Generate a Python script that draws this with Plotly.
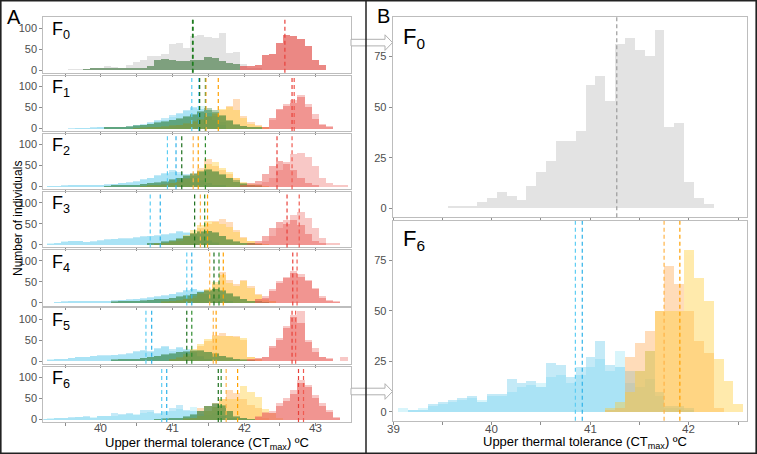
import plotly.graph_objects as go

W, H = 757, 454
BIN = 0.1  # histogram bin width (°C)

# ---------------- data: (first bin centre, counts per 0.1 °C bin) ----------------
F0_grey = (39.6, [1,1,1,3,5,8,6,4,11,18,23,33,33,38,61,65,53,81,84,78,75,88,40,42,13,5,2])
F0_green = (39.8, [1,2,3,4,3,3,3,5,5,8,24,26,24,22,22,24,24,30,28,20,16,14])
F0_red = (42.0, [8,8,12,36,38,64,82,80,74,56,24,12])

F1_cyan_a = (39.7, [1,1,1,2,2,3,4,5,8,10,14,18,22,28,35,42,50,55,45,30,15])
F1_cyan_b = (39.6, [1,1,1,2,2,3,3,5,6,9,12,16,20,26,32,38,46,52,48,38,22,10])
F1_orange = (40.5, [1,1,2,3,4,6,8,12,16,22,28,36,45,55,70,30,15,8,3])
F1_yellow = (40.5, [1,2,3,4,6,8,10,14,18,24,30,38,48,52,45,25,12,6,2])
F1_green_a = (40.1, [2,3,4,6,8,10,12,14,17,20,24,28,32,40,45,40,30,18,10,6,3,2])
F1_green_b = (40.1, [2,2,4,5,7,9,12,15,18,22,26,30,35,42,50,45,33,20,12,7,4,2])
F1_red_a = (42.3, [3,25,48,55,62,75,52,24,10,4])
F1_red_b = (42.3, [2,20,45,58,68,80,60,35,12,6])

F2_cyan_a = (39.3, [1,1,1,2,2,3,4,4,5,6,8,10,12,15,20,25,30,35,30,26,20,14,8,4,2])
F2_cyan_b = (39.3, [1,1,2,2,3,3,4,5,6,7,9,12,14,18,22,28,34,40,36,30,22,15,10,5,2])
F2_orange = (40.6, [1,2,4,6,10,15,22,30,45,66,50,40,30,20,10,5,2,1])
F2_yellow = (40.6, [1,2,3,5,8,12,18,26,40,55,60,45,35,22,12,6,3,1])
F2_green_a = (40.1, [1,2,3,4,5,6,8,10,12,16,20,25,30,36,42,38,30,22,15,8,4,2])
F2_green_b = (40.1, [1,2,2,3,5,7,9,11,14,18,22,27,33,38,40,35,28,20,12,6,3,1])
F2_red_a = (42.0, [4,8,14,30,50,62,55,40,22,10,4])
F2_red_b = (42.1, [3,6,12,22,40,60,78,80,72,50,22,8,4,2])

F3_cyan_a = (39.3, [2,4,8,10,8,6,7,10,12,13,14,14,15,18,20,22,24,26,30,30,26,20,12,6])
F3_cyan_b = (39.3, [1,3,6,10,9,7,8,11,13,14,15,16,18,20,22,24,26,28,32,28,24,18,10,5])
F3_orange = (40.8, [1,3,6,10,18,28,40,50,56,62,55,35,18,8,3,1])
F3_yellow = (40.8, [2,4,8,14,24,36,48,56,54,50,42,30,16,8,3,1])
F3_green_a = (40.7, [2,4,6,10,14,20,26,32,34,30,22,14,8,4,2,1])
F3_green_b = (40.7, [3,5,8,12,16,22,28,30,32,28,20,12,6,3,2,1])
F3_red_a = (42.1, [4,10,22,40,55,50,60,48,25,10,4])
F3_red_b = (42.2, [4,10,22,40,58,70,78,65,40,15,5,2])

F4_cyan_a = (39.4, [1,1,2,2,3,3,4,4,5,6,7,9,10,12,14,16,20,24,28,32,30,22,14,8,4])
F4_cyan_b = (39.4, [1,2,2,3,3,4,4,5,6,7,8,9,11,13,15,18,22,26,30,34,28,20,12,6,3])
F4_orange = (40.9, [1,3,5,8,12,20,30,45,74,55,45,54,40,20,8,3])
F4_yellow = (40.9, [2,4,6,10,16,24,34,50,66,48,40,52,36,18,6,2])
F4_green_a = (40.2, [2,3,4,5,6,7,8,10,12,15,18,22,26,30,32,28,22,14,8,4,2,1])
F4_green_b = (40.2, [1,2,3,4,5,6,8,9,11,14,17,21,25,29,33,30,24,16,10,5,2,1])
F4_red_a = (42.2, [8,12,28,48,58,70,62,52,32,12,5,1])
F4_red_b = (42.2, [10,15,32,52,62,76,68,55,36,16,6,2])

F5_cyan_a = (39.3, [2,3,5,7,9,10,11,12,12,13,14,16,20,24,22,28,32,24,30,26,18,10,4])
F5_cyan_b = (39.3, [1,2,4,6,8,10,12,13,14,14,16,18,24,26,24,30,36,28,34,28,20,12,5])
F5_orange = (41.0, [3,6,12,24,36,48,62,66,60,58,50,8,2])
F5_yellow = (41.0, [4,8,16,28,40,52,58,60,58,56,55,10,3])
F5_green_a = (40.2, [2,3,4,5,6,8,12,14,16,20,22,24,26,22,18,12,8,4,2,1])
F5_green_b = (40.2, [1,2,3,5,6,9,12,15,18,21,24,26,24,20,16,11,7,3,1,1])
F5_red_a = (42.1, [3,6,8,35,50,78,104,90,45,22,8,4])
F5_red_b = (42.1, [2,5,8,30,54,82,110,118,50,30,10,6,0,8])

F6_cyan_a = (39.1, [2,1,2,3,4,5,6,7,6,8,8,10,12,13,14,17,18,14,18,22,26,20,30,14,12,16,8,2,2,1])
F6_cyan_b = (39.1, [0,1,1,4,5,6,7,8,5,9,9,16,14,15,12,24,23,17,22,27,35,23,22,20,20,30,10,3,3,2])
F6_orange = (41.2, [1,2,27,34,40,50,72,63,50,35,29,2])
F6_yellow = (41.2, [2,5,10,20,30,50,50,50,80,66,55,26,15,4])
F6_green_a = (40.8, [1,2,3,5,8,14,20,32,38,36,22,8,3,1])
F6_green_b = (40.8, [1,1,2,4,7,12,22,34,40,34,20,7,2,1])
F6_red_a = (42.2, [6,15,16,32,45,62,88,78,52,32,18,5])
F6_red_b = (42.2, [10,19,20,39,51,70,96,84,59,39,23,7])

# mean CTmax per line (dashed lines)
MEANS_CYAN = [[], [41.27, 41.37], [40.93, 41.05], [40.69, 40.83], [41.20, 41.27], [40.63, 40.71], [40.85, 40.92]]
MEANS_GREEN = [[41.28, 41.29], [41.38, 41.46], [41.13, 41.46], [41.31, 41.45], [41.58, 41.65], [41.20, 41.27], [41.64, 41.68]]
MEANS_ORANGE = [[], [41.47, 41.64], [41.29, 41.36], [41.39, 41.49], [41.52, 41.71], [41.57, 41.61], [41.75, 41.91]]
MEANS_RED = [[42.57], [42.67, 42.70], [42.46, 42.67], [42.60, 42.77], [42.68, 42.74], [42.67, 42.72], [42.76, 42.83]]
MEAN_GREY_F0 = 41.27

GEN_LABELS = ["F<sub>0</sub>", "F<sub>1</sub>", "F<sub>2</sub>", "F<sub>3</sub>",
              "F<sub>4</sub>", "F<sub>5</sub>", "F<sub>6</sub>"]
A_XTICKS = [39.5, 40, 40.5, 41, 41.5, 42, 42.5, 43]
A_XLABELS = [40, 41, 42, 43]
B_XTICKS = [39, 39.5, 40, 40.5, 41, 41.5, 42, 42.5]
B_XLABELS = [39, 40, 41, 42]

# ---------------- styles ----------------
FONT = "Liberation Sans, Arial, sans-serif"
FRAME = "#bdbdbd"
TICKC = "#8c8c8c"
LABC = "#4d4d4d"

STY = {
    "cyan_a": ("#7fe0f2", 0.30), "cyan_b": ("#55c2ea", 0.34),
    "orange": ("#ffa040", 0.36), "yellow": ("#ffcc33", 0.40),
    "green_a": ("#2e7d32", 0.36), "green_b": ("#2e7d32", 0.36),
    "red_a": ("#e8504a", 0.45), "red_b": ("#ec6a64", 0.36),
    "grey": ("#e3e3e3", 1.0), "green0": ("#2d6b2d", 0.55), "red0": ("#e0403a", 0.62),
}
LINE_COL = {"cyan": ["#5ccdf3", "#2fb2e8"], "green": ["#1b6e1b", "#2e8b2e"],
            "orange": ["#ffb347", "#ffa000"], "red": ["#e8403a", "#f05a50"]}

ROW_SERIES = {
    1: [("cyan_a", F1_cyan_a), ("cyan_b", F1_cyan_b), ("orange", F1_orange), ("yellow", F1_yellow),
        ("green_a", F1_green_a), ("green_b", F1_green_b), ("red_a", F1_red_a), ("red_b", F1_red_b)],
    2: [("cyan_a", F2_cyan_a), ("cyan_b", F2_cyan_b), ("orange", F2_orange), ("yellow", F2_yellow),
        ("green_a", F2_green_a), ("green_b", F2_green_b), ("red_a", F2_red_a), ("red_b", F2_red_b)],
    3: [("cyan_a", F3_cyan_a), ("cyan_b", F3_cyan_b), ("orange", F3_orange), ("yellow", F3_yellow),
        ("green_a", F3_green_a), ("green_b", F3_green_b), ("red_a", F3_red_a), ("red_b", F3_red_b)],
    4: [("cyan_a", F4_cyan_a), ("cyan_b", F4_cyan_b), ("orange", F4_orange), ("yellow", F4_yellow),
        ("green_a", F4_green_a), ("green_b", F4_green_b), ("red_a", F4_red_a), ("red_b", F4_red_b)],
    5: [("cyan_a", F5_cyan_a), ("cyan_b", F5_cyan_b), ("orange", F5_orange), ("yellow", F5_yellow),
        ("green_a", F5_green_a), ("green_b", F5_green_b), ("red_a", F5_red_a), ("red_b", F5_red_b)],
    6: [("cyan_a", F6_cyan_a), ("cyan_b", F6_cyan_b), ("orange", F6_orange), ("yellow", F6_yellow),
        ("green_a", F6_green_a), ("green_b", F6_green_b), ("red_a", F6_red_a), ("red_b", F6_red_b)],
}
ROW_SERIES[0] = [("grey", F0_grey), ("green0", F0_green), ("red0", F0_red)]


def px(x):
    return x / W


def py(y):
    return 1 - y / H


def centres(series):
    start, counts = series
    return [round(start + BIN * k, 2) for k in range(len(counts))], counts


fig = go.Figure()
shapes = []
annotations = []
layout_axes = {}


def xref_of(idx):
    return "x" if idx == 1 else f"x{idx}"


def add_hist(idx, key, series):
    col, op = STY[key]
    xs, ys = centres(series)
    fig.add_trace(go.Bar(x=xs, y=ys, width=BIN, opacity=op,
                         marker=dict(color=col, line=dict(width=0)),
                         xaxis=xref_of(idx),
                         yaxis="y" if idx == 1 else f"y{idx}",
                         showlegend=False, hoverinfo="skip"))


def add_vline(idx, xv, col):
    shapes.append(dict(type="line", xref=xref_of(idx),
                       yref=("y" if idx == 1 else f"y{idx}") + " domain",
                       x0=xv, x1=xv, y0=0, y1=1,
                       line=dict(color=col, width=1.2, dash="4px,3px")))


def add_xlabels(idx, values, ypix):
    for v in values:
        annotations.append(dict(x=v, y=py(ypix), xref=xref_of(idx), yref="paper", text=str(v),
                                showarrow=False, xanchor="center", yanchor="middle",
                                font=dict(family=FONT, size=11.5, color=LABC)))


def axis_pair(idx, xdom, ydom, xrange, yrange, xt, yt, yfont):
    xn = "xaxis" if idx == 1 else f"xaxis{idx}"
    yn = "yaxis" if idx == 1 else f"yaxis{idx}"
    layout_axes[xn] = dict(domain=xdom, range=xrange, anchor="y" if idx == 1 else f"y{idx}",
                           tickmode="array", tickvals=xt, showticklabels=False,
                           ticks="outside", ticklen=3, tickcolor=TICKC, showline=True, mirror=True,
                           linecolor=FRAME, linewidth=1, showgrid=False, zeroline=False,
                           automargin=False)
    layout_axes[yn] = dict(domain=ydom, range=yrange, anchor=xref_of(idx),
                           tickmode="array", tickvals=yt, ticks="outside", ticklen=3,
                           tickcolor=TICKC, showline=True, mirror=True, linecolor=FRAME,
                           linewidth=1, showgrid=False, zeroline=False, automargin=False,
                           tickfont=dict(family=FONT, size=yfont, color=LABC))


# ---------------- panel A ----------------
A_XDOM = [px(43.3), px(350.5)]
A_XRANGE = [39.197, 43.486]
A_YRANGE = [-6.5, 126]
for i in range(7):
    idx = i + 1
    top = 17.3 + 58.2 * i
    bot = top + 55.5
    axis_pair(idx, A_XDOM, [py(bot), py(top)], A_XRANGE, A_YRANGE,
              A_XTICKS, [0, 50, 100], 11)
    for key, s in ROW_SERIES[i]:
        add_hist(idx, key, s)
    for cname, means in (("cyan", MEANS_CYAN[i]), ("green", MEANS_GREEN[i]),
                         ("orange", MEANS_ORANGE[i]), ("red", MEANS_RED[i])):
        for j, m in enumerate(means):
            add_vline(idx, m, LINE_COL[cname][j % 2])
    annotations.append(dict(x=px(50), y=py(top + 13), xref="paper", yref="paper",
                            text=GEN_LABELS[i], showarrow=False, xanchor="left", yanchor="middle",
                            font=dict(family=FONT, size=18, color="black")))
add_xlabels(7, A_XLABELS, 427.5)

# ---------------- panel B ----------------
B_XDOM = [px(392.7), px(746.7)]
B_XRANGE = [38.997, 42.588]
B_YRANGE = [-4.45, 94.4]
# B top: F0
axis_pair(8, B_XDOM, [py(217.3), py(17.3)], B_XRANGE, B_YRANGE, B_XTICKS, [0, 25, 50, 75], 11)
add_hist(8, "grey", F0_grey)
add_vline(8, MEAN_GREY_F0, "#9a9a9a")
# B bottom: F6 (cyan and yellow lines)
axis_pair(9, B_XDOM, [py(420.7), py(221)], B_XRANGE, B_YRANGE, B_XTICKS, [0, 25, 50, 75], 11)
for key, s in ROW_SERIES[6][:4]:
    add_hist(9, key, s)
for cname, means in (("cyan", MEANS_CYAN[6]), ("orange", MEANS_ORANGE[6])):
    for j, m in enumerate(means):
        add_vline(9, m, LINE_COL[cname][j % 2])
add_xlabels(9, B_XLABELS, 428.5)
annotations.append(dict(x=px(401), y=py(38), xref="paper", yref="paper", text=GEN_LABELS[0],
                        showarrow=False, xanchor="left", yanchor="middle",
                        font=dict(family=FONT, size=22, color="black")))
annotations.append(dict(x=px(401), y=py(240), xref="paper", yref="paper", text=GEN_LABELS[6],
                        showarrow=False, xanchor="left", yanchor="middle",
                        font=dict(family=FONT, size=22, color="black")))

# ---------------- titles & panel letters ----------------
XTITLE = "Upper thermal tolerance (CT<sub>max</sub>) ºC"
annotations += [
    dict(x=px(14), y=py(17), text="A", font=dict(family=FONT, size=20, color="black")),
    dict(x=px(383), y=py(16), text="B", font=dict(family=FONT, size=20, color="black")),
    dict(x=px(18), y=py(219), text="Number of individuals", textangle=-90,
         font=dict(family=FONT, size=12, color="black")),
    dict(x=px(207), y=py(443), text=XTITLE, font=dict(family=FONT, size=13, color="black")),
    dict(x=px(585), y=py(442), text=XTITLE, font=dict(family=FONT, size=13, color="black")),
]
for a in annotations[-5:]:
    a.update(xref="paper", yref="paper", showarrow=False, xanchor="center", yanchor="middle")


# ---------------- arrows, divider, outer frame ----------------
def arrow_path(cy):
    pts = [(351, cy - 3.3), (385, cy - 3.3), (385, cy - 7.8), (392.5, cy),
           (385, cy + 7.8), (385, cy + 3.3), (351, cy + 3.3)]
    d = "M " + " L ".join(f"{px(x):.5f},{py(y):.5f}" for x, y in pts) + " Z"
    return dict(type="path", xref="paper", yref="paper", path=d,
                fillcolor="white", line=dict(color="#b0b0b0", width=1), layer="above")


shapes.append(arrow_path(42.6))
shapes.append(arrow_path(391.5))
shapes.append(dict(type="line", xref="paper", yref="paper", x0=px(366), x1=px(366),
                   y0=0, y1=1, line=dict(color="#222222", width=1.5)))
shapes.append(dict(type="rect", xref="paper", yref="paper", x0=px(0.8), x1=px(756.2),
                   y0=py(453.2), y1=py(0.8), line=dict(color="#222222", width=1.6)))

fig.update_layout(width=W, height=H, margin=dict(l=0, r=0, t=0, b=0, autoexpand=False),
                  paper_bgcolor="white", plot_bgcolor="white",
                  barmode="overlay", bargap=0, showlegend=False,
                  shapes=shapes, annotations=annotations,
                  font=dict(family=FONT), **layout_axes)

fig.write_html("out.html", config={"displayModeBar": False},
               post_script="document.body.style.margin='0px';document.body.style.overflow='hidden';")
